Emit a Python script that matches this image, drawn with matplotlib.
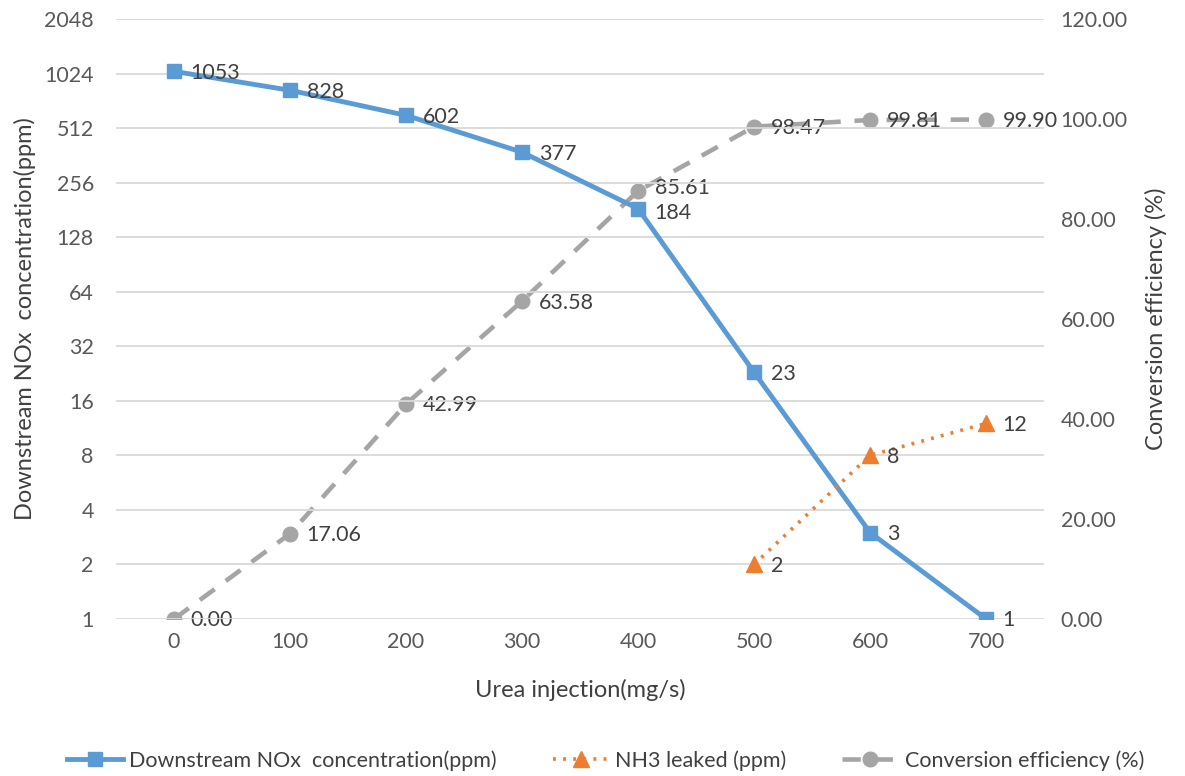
import numpy as np
import matplotlib
matplotlib.use("Agg")
import matplotlib.pyplot as plt
from matplotlib.ticker import FixedLocator, FixedFormatter, NullLocator

plt.rcParams["font.family"] = ["Lato", "DejaVu Sans"]

# data
urea = [0, 100, 200, 300, 400, 500, 600, 700]
nox_ppm = [1053, 828, 602, 377, 184, 23, 3, 1]
nh3_x = [500, 600, 700]
nh3_ppm = [2, 8, 12]
efficiency = [0.00, 17.06, 42.99, 63.58, 85.61, 98.47, 99.81, 99.90]
left_ticks = [1, 2, 4, 8, 16, 32, 64, 128, 256, 512, 1024, 2048]
right_ticks = [0, 20, 40, 60, 80, 100, 120]

BLUE = "#5B9BD5"
ORANGE = "#ED7D31"
GRAY = "#A5A5A5"
TXT = "#404040"
TICK = "#595959"
FS = 15.5

fig = plt.figure(figsize=(11.85, 7.76), dpi=100)
ax1 = fig.add_axes([0.0979, 0.2023, 0.7832, 0.7732])
ax2 = ax1.twinx()
ax1.set_zorder(ax2.get_zorder() + 1)
ax1.patch.set_visible(False)

pos = np.arange(len(urea))
nh3_pos = [urea.index(v) for v in nh3_x]

# right axis: conversion efficiency
ax2.plot(pos, efficiency, color=GRAY, lw=3.3, ls=(0, (4, 3)), marker="o", ms=10.5,
         label="Conversion efficiency (%)")
for p, v in zip(pos, efficiency):
    # nudge the 85.61 label up a bit so it clears the 184 label below it
    dy = 2 if v == 85.61 else -1
    ax2.annotate(f"{v:.2f}", (p, v), xytext=(12, dy), textcoords="offset points",
                 va="center", ha="left", fontsize=FS, color=TXT, annotation_clip=False)
ax2.set_ylim(0, 120)
ax2.yaxis.set_major_locator(FixedLocator(right_ticks))
ax2.set_yticklabels([f"{t:.2f}" for t in right_ticks])
ax2.set_ylabel("Conversion efficiency (%)", fontsize=17, color=TXT, labelpad=12)

# left axis: NOx and NH3 on log2 scale
ax1.plot(pos, nox_ppm, color=BLUE, lw=3.5, marker="s", ms=10.5,
         label="Downstream NOx  concentration(ppm)")
ax1.plot(nh3_pos, nh3_ppm, color=ORANGE, lw=2.6, ls=(0, (0.8, 2.0)), marker="^", ms=11,
         label="NH3 leaked (ppm)")
for p, v in zip(pos, nox_ppm):
    dy = -3 if v == 184 else -1
    ax1.annotate(str(v), (p, v), xytext=(12, dy), textcoords="offset points",
                 va="center", ha="left", fontsize=FS, color=TXT)
for p, v in zip(nh3_pos, nh3_ppm):
    ax1.annotate(str(v), (p, v), xytext=(12, -1), textcoords="offset points",
                 va="center", ha="left", fontsize=FS, color=TXT)
ax1.set_yscale("log", base=2)
ax1.set_ylim(1, 2048)
ax1.yaxis.set_major_locator(FixedLocator(left_ticks))
ax1.yaxis.set_major_formatter(FixedFormatter([str(t) for t in left_ticks]))
ax1.yaxis.set_minor_locator(NullLocator())
ax1.set_xlim(-0.5, len(urea) - 0.5)
ax1.set_xticks(pos)
ax1.set_xticklabels([str(u) for u in urea])
ax1.set_xlabel("Urea injection(mg/s)", fontsize=17, color=TXT, labelpad=20)
ax1.set_ylabel("Downstream NOx  concentration(ppm)", fontsize=17, color=TXT, labelpad=6)
ax1.grid(axis="y", color="#D9D9D9", lw=1.3)
ax1.set_axisbelow(True)

for ax in (ax1, ax2):
    for s in ax.spines.values():
        s.set_visible(False)
    ax.tick_params(length=0, labelsize=FS, labelcolor=TICK)
ax1.tick_params(axis="y", pad=16)
ax1.tick_params(axis="x", pad=9)
ax2.tick_params(axis="y", pad=12)

h1, l1 = ax1.get_legend_handles_labels()
h2, l2 = ax2.get_legend_handles_labels()
fig.legend(h1 + h2, l1 + l2, loc="center", bbox_to_anchor=(0.511, 0.02), ncol=3,
           frameon=False, fontsize=FS, labelcolor=TXT, handlelength=2.6,
           columnspacing=2.6, handletextpad=0.3)

plt.savefig("out.png", dpi=100)
